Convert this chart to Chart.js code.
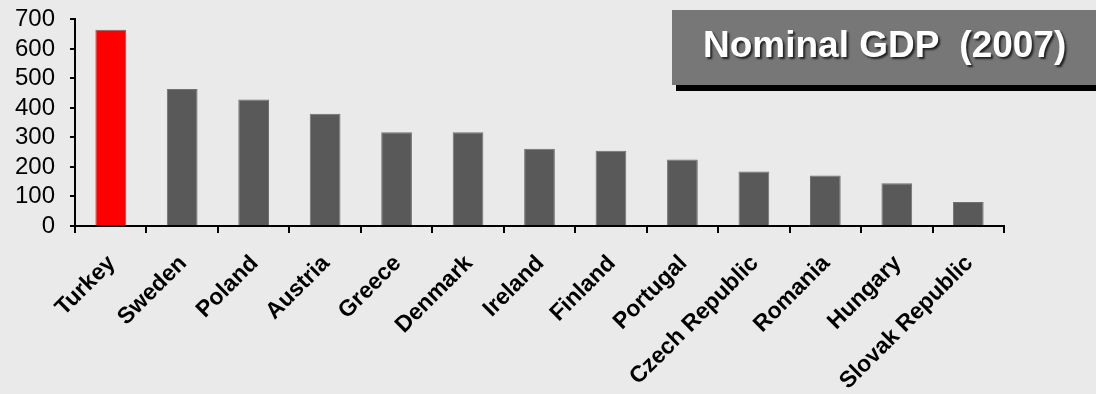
<!DOCTYPE html>
<html>
<head>
<meta charset="utf-8">
<script src="https://cdn.jsdelivr.net/npm/chart.js@4/dist/chart.umd.min.js"></script>
<style>
  html, body { margin: 0; padding: 0; background: #eaeaea; overflow: hidden; }
  #wrap { position: relative; width: 1096px; height: 394px; overflow: hidden; }
  #gdpChart { position: absolute; left: 0; top: -10px; }
  #titleBox {
    position: absolute; left: 672px; top: 10px; width: 440px; height: 75px;
    background: #777777; box-shadow: 4px 6px 0 #000;
    color: #fff; font-family: "Liberation Sans", Arial, sans-serif; font-weight: bold;
    font-size: 37px; line-height: 70px; padding-left: 31px; box-sizing: border-box;
    white-space: pre; text-shadow: 2px 2px 2px #222;
  }
</style>
</head>
<body>
<div id="wrap">
  <canvas id="gdpChart" width="1096" height="404"></canvas>
  <div id="titleBox">Nominal GDP  (2007)</div>
</div>
<script>
"use strict";

const countries = ['Turkey', 'Sweden', 'Poland', 'Austria', 'Greece', 'Denmark', 'Ireland',
  'Finland', 'Portugal', 'Czech Republic', 'Romania', 'Hungary', 'Slovak Republic'];
const gdpValues = [665, 464, 429, 380, 318, 318, 262, 255, 225, 185, 171, 145, 81];
const highlightCountry = 'Turkey';

const barColors = countries.map(c => c === highlightCountry ? '#ff0000' : '#595959');
const borderColors = countries.map(c => c === highlightCountry ? '#6e6e6e' : '#707070');

const ctx = document.getElementById('gdpChart').getContext('2d');
const gdpChart = new Chart(ctx, {
  type: 'bar',
  data: {
    labels: countries,
    datasets: [{
      label: 'Nominal GDP',
      data: gdpValues,
      backgroundColor: barColors,
      borderColor: borderColors,
      borderWidth: 1,
      categoryPercentage: 1,
      barPercentage: 0.43
    }]
  },
  options: {
    responsive: false,
    animation: false,
    layout: { padding: { top: 10, right: 92, left: 0, bottom: 0 } },
    plugins: {
      legend: { display: false },
      tooltip: { enabled: false }
    },
    scales: {
      x: {
        border: { color: '#000', width: 2 },
        grid: {
          offset: true,
          drawOnChartArea: false,
          color: '#000',
          lineWidth: 2,
          tickLength: 7
        },
        ticks: {
          autoSkip: false,
          maxRotation: 45,
          minRotation: 45,
          color: '#000',
          padding: 17,
          labelOffset: 1,
          font: { family: '"Liberation Sans", Arial, sans-serif', size: 23, weight: 'bold' }
        },
        afterFit: (scale) => { scale.height = 168; }
      },
      y: {
        min: 0,
        max: 700,
        border: { color: '#000', width: 2 },
        grid: {
          drawOnChartArea: false,
          color: '#000',
          lineWidth: 2,
          tickLength: 5
        },
        ticks: {
          stepSize: 100,
          autoSkip: false,
          color: '#000',
          padding: 15,
          font: { family: '"Liberation Sans", Arial, sans-serif', size: 24 }
        },
        afterFit: (scale) => { scale.width = 75; }
      }
    }
  }
});
</script>
</body>
</html>
